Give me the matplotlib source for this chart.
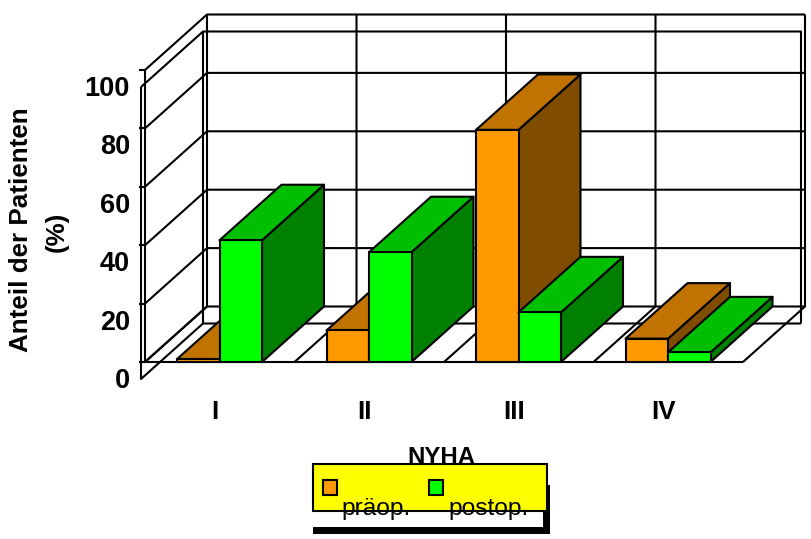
#!/usr/bin/env python
import matplotlib
matplotlib.use('Agg')
import matplotlib.pyplot as plt
from matplotlib.patches import Polygon, Rectangle

plt.rcParams['font.family'] = ['Liberation Sans', 'DejaVu Sans']

categories = ['I', 'II', 'III', 'IV']
praeop = [1, 10.8, 79.5, 8]
postop = [41.7, 37.6, 17, 3.3]
ticks = [0, 20, 40, 60, 80, 100]

W, H = 811, 539
# pixels per unit, front wall origin
PX_CAT = 149.5
PX_PCT = 2.92
X0, Y0 = 145, 362
# depth of the box in data units
DX = 62 / PX_CAT
DY = 55.5 / PX_PCT
# the second wall sits a little left and below
OX = -4 / PX_CAT
OY = -17 / PX_PCT
LW = 1.5
BAR_START = 32 / PX_CAT
BAR_W = 42.5 / PX_CAT


def px(x, y):
    return (x - X0) / PX_CAT, (Y0 - y) / PX_PCT


def pw(n):
    return n * 0.72


fig = plt.figure(figsize=(W / 100, H / 100), dpi=100)
ax = fig.add_axes([0, 0, 1, 1])
ax.set_xlim(px(0, 0)[0], px(W, 0)[0])
ax.set_ylim(px(0, H)[1], px(0, 0)[1])
ax.axis('off')


def line(xs, ys, z=1):
    ax.plot(xs, ys, color='black', lw=LW, zorder=z, solid_capstyle='butt')


n = len(categories)

# second wall and floor edge
line([OX, OX + DX, n + OX + DX, n + OX + DX], [100 + OY, 100 + OY + DY, 100 + OY + DY, OY + DY])
line([OX, OX, OX + DX, n + OX + DX], [100 + OY, OY, OY + DY, OY + DY])
line([OX + DX, OX + DX], [100 + OY + DY, OY + DY])

# back wall, left wall
for t in ticks:
    line([0, DX, n + DX], [t, t + DY, t + DY])
    line([-6 / PX_CAT, 0], [t, t])
line([0, 0], [0, 100])
for k in range(n + 1):
    line([k, k + DX, k + DX], [0, DY, 100 + DY])
line([-6 / PX_CAT, n], [0, 0])


def bar(x, v, front, top, side):
    w = BAR_W
    ax.add_patch(Polygon([(x + w, 0), (x + w + DX, DY), (x + w + DX, v + DY), (x + w, v)],
                         fc=side, ec='black', lw=LW, zorder=3, joinstyle='round'))
    ax.add_patch(Polygon([(x, v), (x + DX, v + DY), (x + w + DX, v + DY), (x + w, v)],
                         fc=top, ec='black', lw=LW, zorder=3, joinstyle='round'))
    ax.add_patch(Rectangle((x, 0), w, v, fc=front, ec='black', lw=LW, zorder=3))


for k in range(n):
    x = k + BAR_START
    bar(x, praeop[k], '#FF9900', '#C07300', '#804D00')
    bar(x + BAR_W, postop[k], '#00FF00', '#00BF00', '#008000')

# axis text
for t in ticks:
    ax.text(*px(130, Y0 - t * PX_PCT + 19), str(t), ha='right', va='center',
            fontsize=pw(27), fontweight='bold')
for k, c in enumerate(categories):
    ax.text(*px(215 + k * PX_CAT, 412), c, ha='center', va='center',
            fontsize=pw(26), fontweight='bold')
ax.text(*px(21, 230), 'Anteil der Patienten', rotation=90, ha='center', va='center',
        fontsize=pw(26), fontweight='bold')
ax.text(*px(57, 232), '(%)', rotation=90, ha='center', va='center',
        fontsize=pw(26), fontweight='bold')
ax.text(*px(441, 458), 'NYHA', ha='center', va='center',
        fontsize=pw(24), fontweight='bold', zorder=4)


def box(x0, y0, x1, y1, **kw):
    (a, b), (c, d) = px(x0, y1), px(x1, y0)
    ax.add_patch(Rectangle((a, b), c - a, d - b, **kw))


# legend
box(313, 485, 550, 534, fc='black', ec='none', zorder=5)
box(313, 485, 543, 527, fc='white', ec='none', zorder=5)
box(313, 464, 547, 511, fc='#FFFF00', ec='black', lw=LW, zorder=5)
box(323, 480, 337, 495, fc='#FF9900', ec='black', lw=LW, zorder=6)
box(429, 480, 443, 495, fc='#00FF00', ec='black', lw=LW, zorder=6)
ax.text(*px(341, 515), 'präop.', ha='left', va='baseline', fontsize=pw(24.5), zorder=7)
ax.text(*px(448, 515), 'postop.', ha='left', va='baseline', fontsize=pw(24.5), zorder=7)

fig.savefig('out.png', dpi=100)
